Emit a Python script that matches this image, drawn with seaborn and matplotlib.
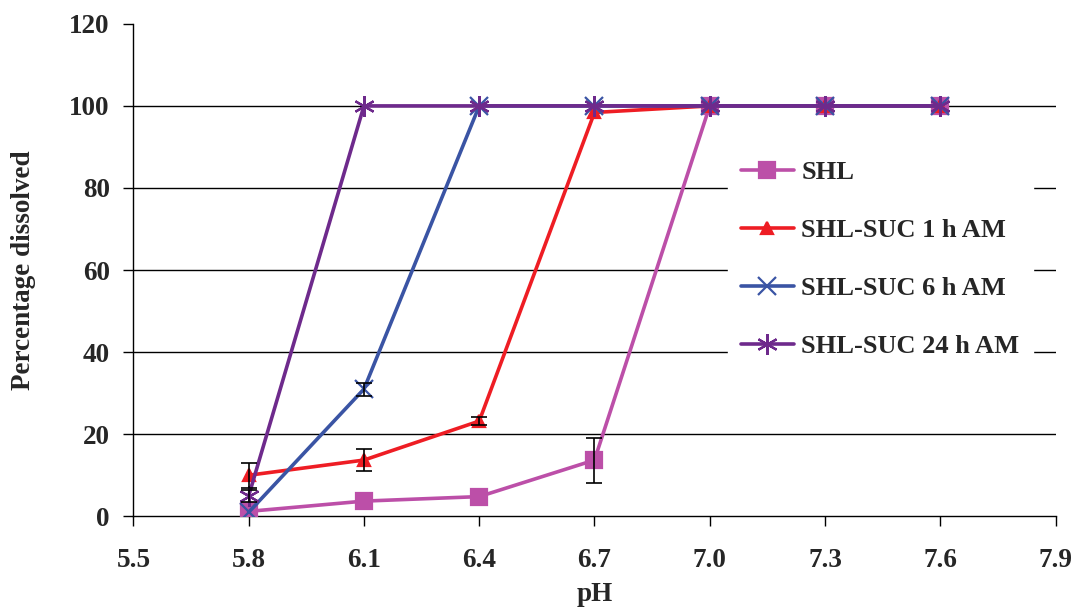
import matplotlib
matplotlib.use("Agg")
import matplotlib.pyplot as plt
import seaborn as sns
import pandas as pd

# pH values and mean percentage dissolved per formulation
ph = [5.8, 6.1, 6.4, 6.7, 7.0, 7.3, 7.6]
shl = [1.2, 3.7, 4.8, 13.7, 100, 100, 100]
shl_err = [0, 0, 0, 5.5, 0, 0, 0]
suc_1h = [10.0, 13.7, 23.2, 98.4, 100, 100, 100]
suc_1h_err = [3.0, 2.6, 1.0, 0, 0, 0, 0]
suc_6h = [1.0, 31.0, 100, 100, 100, 100, 100]
suc_6h_err = [0, 1.6, 0, 0, 0, 0, 0]
suc_24h = [5.0, 100, 100, 100, 100, 100, 100]
suc_24h_err = [1.5, 0, 0, 0, 0, 0, 0]

labels = ["SHL", "SHL-SUC 1 h AM", "SHL-SUC 6 h AM", "SHL-SUC 24 h AM"]
x_ticks = [5.5, 5.8, 6.1, 6.4, 6.7, 7.0, 7.3, 7.6, 7.9]
y_ticks = [0, 20, 40, 60, 80, 100, 120]

series = [shl, suc_1h, suc_6h, suc_24h]
errors = [shl_err, suc_1h_err, suc_6h_err, suc_24h_err]

sns.set_theme(style="white")
plt.rcParams["font.family"] = ["Liberation Serif", "DejaVu Serif"]
plt.rcParams["font.weight"] = "bold"

colors = ["#BC4FA8", "#EE1D24", "#3A54A4", "#6E2A8C"]
markers = ["s", "^", "x", (6, 2, 0)]
msizes = [12, 9, 13, 15]

rows = []
for lab, vals in zip(labels, series):
    for p, v in zip(ph, vals):
        rows.append({"pH": p, "value": v, "series": lab})
df = pd.DataFrame(rows)

fig, ax = plt.subplots(figsize=(10.76, 6.11), dpi=100)
fig.subplots_adjust(left=0.124, right=0.981, top=0.961, bottom=0.155)

for y in y_ticks[1:-1]:
    ax.axhline(y, color="black", lw=1.0, zorder=0)

for i, lab in enumerate(labels):
    sub = df[df["series"] == lab]
    sns.lineplot(data=sub, x="pH", y="value", ax=ax, color=colors[i],
                 marker=markers[i], markersize=msizes[i], markeredgewidth=1.6,
                 markeredgecolor=colors[i], linewidth=2.6, label=lab,
                 zorder=3 + i)
    ex = [p for p, e in zip(ph, errors[i]) if e > 0]
    ey = [v for v, e in zip(series[i], errors[i]) if e > 0]
    ee = [e for e in errors[i] if e > 0]
    ax.errorbar(ex, ey, yerr=ee, fmt="none", ecolor="black", elinewidth=1.2,
                capsize=6, capthick=1.2, zorder=10)

ax.set_xlim(5.5, 7.9)
ax.set_ylim(0, 120)
ax.set_xticks(x_ticks)
ax.set_xticklabels([f"{t:.1f}" for t in x_ticks])
ax.set_yticks(y_ticks)
for lab_ in ax.get_xticklabels() + ax.get_yticklabels():
    lab_.set_fontweight("bold")
ax.tick_params(axis="both", labelsize=19.5, direction="out", length=7, width=1.0,
               color="black", pad=10, bottom=True, left=True)
ax.tick_params(axis="x", pad=16)

for s in ["top", "right"]:
    ax.spines[s].set_visible(False)
for s in ["left", "bottom"]:
    ax.spines[s].set_color("black")
    ax.spines[s].set_linewidth(1.0)

ax.set_xlabel("pH", fontsize=19.5, fontweight="bold", labelpad=6)
ax.set_ylabel("Percentage dissolved", fontsize=19.5, fontweight="bold", labelpad=24)

leg = ax.legend(loc="upper left", bbox_to_anchor=(0.63, 0.775), frameon=True,
                facecolor="white", edgecolor="white", framealpha=1.0,
                fontsize=19, handlelength=2.0, labelspacing=1.3,
                borderpad=0.5, handletextpad=0.3)
for t in leg.get_texts():
    t.set_fontweight("bold")
leg.get_frame().set_boxstyle("square", pad=0)

fig.savefig("out.png", dpi=100)
